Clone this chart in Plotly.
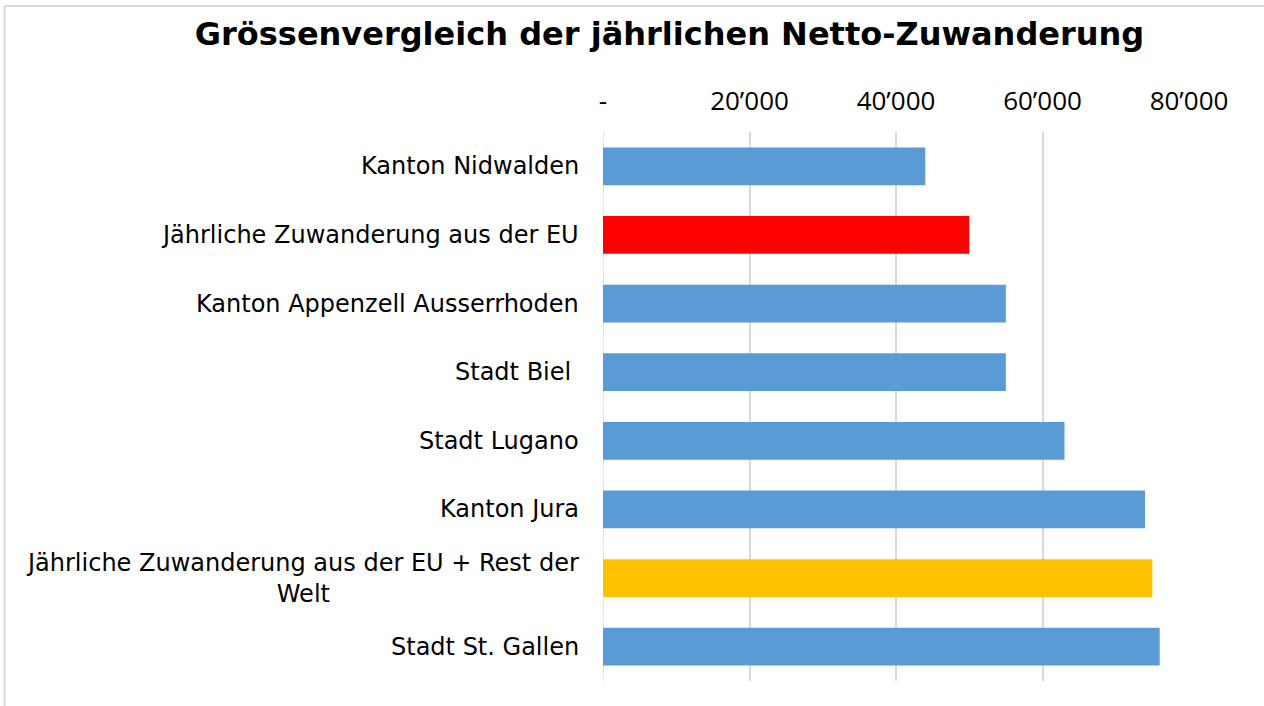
import plotly.graph_objects as go

categories = [
    "Kanton Nidwalden",
    "Jährliche Zuwanderung aus der EU",
    "Kanton Appenzell Ausserrhoden",
    "Stadt Biel\u00a0",
    "Stadt Lugano",
    "Kanton Jura",
    "Jährliche Zuwanderung aus der EU + Rest der<br>Welt",
    "Stadt St. Gallen",
]
values = [44000, 50000, 55000, 55000, 63000, 74000, 75000, 76000]
colors = ["#5B9BD5", "#FF0000", "#5B9BD5", "#5B9BD5", "#5B9BD5", "#5B9BD5", "#FFC000", "#5B9BD5"]
tick_vals = [0, 20000, 40000, 60000, 80000]
tick_text = ["-", "20’000", "40’000", "60’000", "80’000"]
title_text = "Grössenvergleich der jährlichen Netto-Zuwanderung"

W, H = 1264, 706
L, R, T, B = 603, 75, 132, 25

fig = go.Figure(go.Bar(
    x=values, y=categories, orientation="h",
    marker=dict(color=colors, line=dict(width=0)),
    hoverinfo="x+y",
))

annotations = []
for c in categories:
    annotations.append(dict(
        x=0, xref="paper", y=c, yref="y", text=c, showarrow=False,
        xanchor="right", yanchor="middle", align="center", xshift=-22,
        font=dict(family="DejaVu Sans", size=24, color="#000000"),
    ))

pw, ph = W - L - R, H - T - B
def px2x(p):
    return (p - L) / pw
def px2y(p):
    return (H - B - p) / ph

fig.update_layout(
    width=W, height=H,
    margin=dict(l=L, r=R, t=T, b=B),
    paper_bgcolor="white", plot_bgcolor="white",
    bargap=0.45,
    showlegend=False,
    title=dict(text="<b>" + title_text + "</b>", x=669.5 / W, xanchor="center",
               y=1 - 34 / H, yanchor="middle",
               font=dict(family="DejaVu Sans", size=32, color="#000000")),
    xaxis=dict(range=[0, 80000], side="top", tickvals=tick_vals, ticktext=tick_text,
               showgrid=True, gridcolor="#D9D9D9", gridwidth=1.5,
               zeroline=False, showline=False, ticks="", ticklabelstandoff=16,
               tickfont=dict(family="Open Sans", size=26, color="#000000"),
               fixedrange=True),
    yaxis=dict(autorange="reversed", showticklabels=False, showgrid=False,
               zeroline=False, showline=False, ticks="", fixedrange=True),
    annotations=annotations,
    shapes=[
        dict(type="line", xref="paper", yref="paper", x0=px2x(4.5), x1=px2x(4.5),
             y0=px2y(6), y1=px2y(720), line=dict(color="#D9D9D9", width=2)),
        dict(type="line", xref="paper", yref="paper", x0=px2x(4.5), x1=px2x(1300),
             y0=px2y(6), y1=px2y(6), line=dict(color="#D9D9D9", width=2)),
        dict(type="line", xref="x", yref="paper", x0=0, x1=0, y0=0, y1=1,
             line=dict(color="#D9D9D9", width=1.5), layer="below"),
    ],
)

fig.write_html("out.html", config={"displayModeBar": False},
               post_script="document.body.style.margin='0';")
